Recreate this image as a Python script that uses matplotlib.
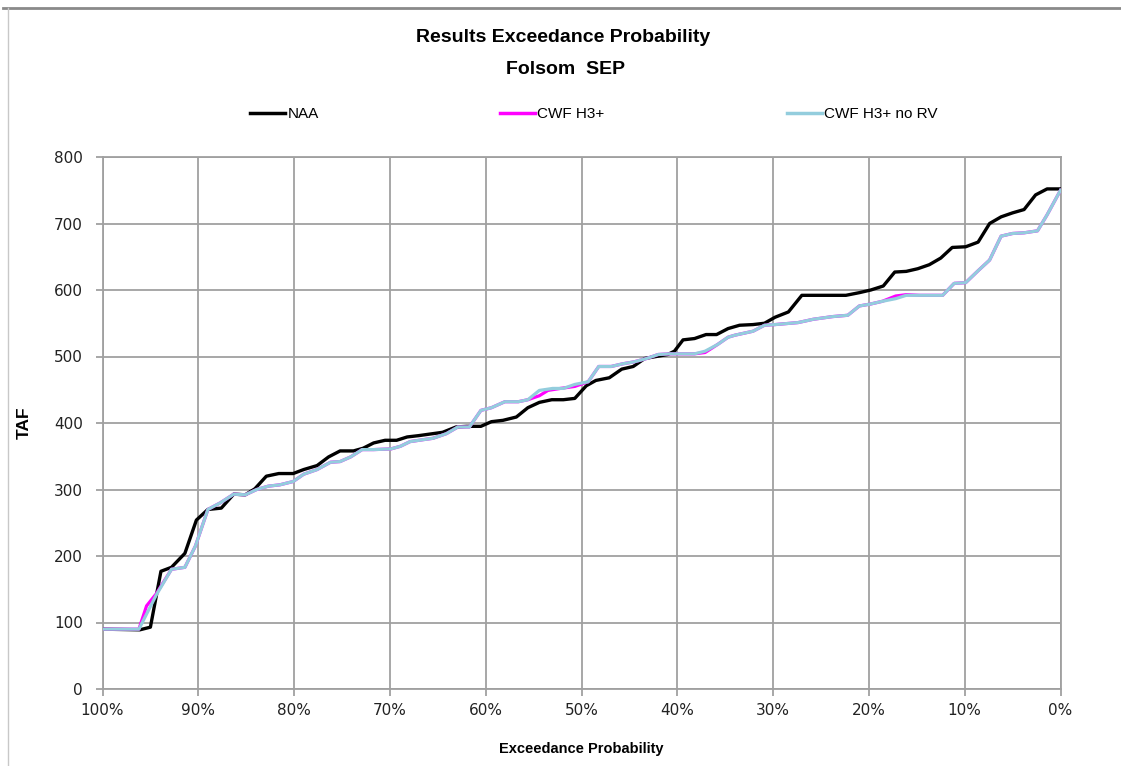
import matplotlib
matplotlib.use("Agg")
import matplotlib.pyplot as plt
from matplotlib import font_manager
from matplotlib.lines import Line2D

# ---------------- data ----------------
naa_x = [100, 96.1, 95.0, 93.9, 92.8, 91.4, 90.2, 89.0, 87.6, 86.3, 85.1, 84.1, 82.9, 81.6, 80.1,
         79.0, 77.6, 76.4, 75.2, 73.8, 72.8, 71.7, 70.5, 69.3, 68.2, 67.0, 65.5, 64.5, 63.1, 62.0,
         60.5, 59.4, 58.2, 56.8, 55.6, 54.4, 53.1, 51.9, 50.7, 49.5, 48.5, 47.1, 45.8, 44.6, 43.4,
         42.2, 41.0, 40.3, 39.4, 38.2, 37.0, 35.9, 34.7, 33.5, 32.1, 30.9, 29.8, 28.4, 27.0, 25.5,
         24.1, 22.4, 21.0, 19.8, 18.5, 17.3, 16.1, 14.9, 13.7, 12.5, 11.3, 9.9, 8.6, 7.4, 6.2,
         5.0, 3.8, 2.6, 1.4, 0]
naa_y = [90, 89, 93, 177, 183, 204, 254, 270, 272, 293, 292, 301, 320, 324, 324,
         330, 336, 349, 358, 358, 362, 370, 374, 374, 379, 381, 384, 386, 394, 395,
         395, 402, 404, 409, 423, 431, 435, 435, 437, 456, 464, 468, 481, 485, 497,
         500, 503, 508, 525, 527, 533, 533, 542, 547, 548, 550, 559, 567, 592, 592,
         592, 592, 596, 600, 606, 627, 628, 632, 638, 648, 664, 665, 672, 700, 710,
         716, 721, 743, 752, 752]

cwf_x = [100, 96.2, 95.4, 94.4, 92.8, 91.4, 90.3, 89.0, 87.7, 86.3, 85.1, 83.9, 82.7, 81.5, 80.1,
         79.0, 77.6, 76.2, 75.2, 74.1, 72.9, 71.7, 69.9, 68.9, 67.9, 66.5, 65.5, 64.1, 62.9, 61.7,
         60.5, 59.4, 58.0, 56.6, 55.6, 54.4, 53.5, 52.2, 50.7, 49.3, 48.2, 46.9, 45.7, 44.5, 43.2,
         42.0, 40.8, 39.4, 38.2, 37.1, 35.8, 34.7, 34.0, 32.1, 30.9, 29.8, 27.4, 25.8, 23.8, 22.2,
         21.0, 19.8, 18.6, 17.2, 16.1, 14.7, 13.3, 12.3, 11.1, 9.9, 8.6, 7.4, 6.2, 5.0, 3.8,
         2.4, 1.4, 0]
cwf_y = [90, 90, 125, 143, 180, 183, 215, 270, 280, 293, 292, 300, 305, 307, 312,
         323, 330, 341, 342, 349, 360, 360, 361, 365, 372, 375, 377, 384, 394, 394,
         419, 423, 432, 432, 435, 441, 449, 452, 455, 462, 485, 485, 489, 492, 497,
         503, 504, 504, 504, 506, 518, 529, 532, 538, 547, 548, 551, 556, 560, 562,
         576, 579, 583, 591, 593, 592, 592, 592, 610, 611, 629, 645, 681, 685, 686,
         689, 713, 750]

norv_x = [100, 96.2, 94.4, 92.8, 91.4, 90.3, 89.0, 87.7, 86.3, 85.1, 83.9, 82.7, 81.5, 80.1,
          79.0, 77.6, 76.2, 75.2, 74.1, 72.9, 71.7, 69.9, 68.9, 67.9, 66.5, 65.5, 64.1, 62.9, 61.7,
          60.5, 59.4, 58.0, 56.6, 55.6, 54.4, 53.0, 51.9, 50.7, 49.3, 48.2, 46.9, 45.7, 44.5, 43.2,
          42.0, 40.8, 39.4, 38.2, 37.1, 35.8, 34.7, 34.0, 32.1, 30.9, 29.8, 27.4, 25.8, 23.8, 22.2,
          21.0, 19.8, 18.6, 17.2, 16.1, 14.7, 13.3, 12.3, 11.1, 9.9, 8.6, 7.4, 6.2, 5.0, 3.8,
          2.4, 1.4, 0]
norv_y = [90, 90, 141, 180, 183, 215, 270, 280, 293, 292, 300, 305, 307, 312,
          323, 330, 341, 342, 349, 360, 360, 361, 365, 372, 375, 377, 384, 394, 394,
          419, 423, 432, 432, 435, 449, 452, 452, 458, 462, 485, 485, 489, 492, 497,
          503, 504, 504, 504, 508, 518, 529, 532, 538, 547, 548, 551, 556, 560, 562,
          576, 579, 583, 587, 592, 592, 592, 592, 610, 611, 629, 645, 681, 685, 686,
          689, 713, 750]

series_names = ["NAA", "CWF H3+", "CWF H3+ no RV"]
x_ticks = [100, 90, 80, 70, 60, 50, 40, 30, 20, 10, 0]
x_tick_labels = [f"{t}%" for t in x_ticks]
y_ticks = [0, 100, 200, 300, 400, 500, 600, 700, 800]

title_line1 = "Results Exceedance Probability"
title_line2 = "Folsom  SEP"
x_label = "Exceedance Probability"
y_label = "TAF"

# ---------------- fonts ----------------
def pick(names):
    for n in names:
        try:
            font_manager.findfont(font_manager.FontProperties(family=n), fallback_to_default=False)
            return n
        except Exception:
            continue
    return "DejaVu Sans"

narrow = pick(["Liberation Sans Narrow", "Liberation Sans"])
tickfont = "DejaVu Sans"
legfont = pick(["Liberation Sans", "Arial"])

# ---------------- figure ----------------
W, H = 1121, 766
fig = plt.figure(figsize=(W / 100, H / 100), dpi=100)
fig.patch.set_facecolor("white")

x0, x1 = 102.5, 1060.5
y0, y1 = 689, 157
ax = fig.add_axes([x0 / W, 1 - y0 / H, (x1 - x0) / W, (y0 - y1) / H])

grid_c = "#A0A0A0"
colors = ["black", "#FF00FF", "#93CDDD"]

ax.plot(naa_x, naa_y, color=colors[0], lw=2.4, zorder=3, solid_joinstyle="round")
ax.plot(cwf_x, cwf_y, color=colors[1], lw=2.3, zorder=4, solid_joinstyle="round")
ax.plot(norv_x, norv_y, color=colors[2], lw=2.3, zorder=5, solid_joinstyle="round")

ax.set_xlim(100, 0)
ax.set_ylim(0, 800)
ax.set_xticks(x_ticks)
ax.set_xticklabels(x_tick_labels)
ax.set_yticks(y_ticks)
ax.grid(True, color=grid_c, lw=1.3)
ax.set_axisbelow(True)
for s in ax.spines.values():
    s.set_color(grid_c)
    s.set_linewidth(1.3)
ax.tick_params(axis="both", direction="out", length=5, width=1.3, color=grid_c,
               labelsize=11, labelcolor="#222222")
ax.tick_params(axis="x", pad=5)
ax.tick_params(axis="y", pad=9)
for lab in ax.get_xticklabels() + ax.get_yticklabels():
    lab.set_family(tickfont)

ax.set_xlabel(x_label, fontsize=10.5, fontweight="bold", family=narrow, labelpad=17)
ax.set_ylabel(y_label, fontsize=12.5, fontweight="bold", family=legfont, labelpad=16)

# titles
fig.text(563 / W, 1 - 37 / H, title_line1, ha="center", va="center",
         fontsize=14, fontweight="bold", family=narrow)
fig.text(566 / W, 1 - 70 / H, title_line2, ha="center", va="center",
         fontsize=14, fontweight="bold", family=narrow)

# legend: three separate entries
legend_pos = [250, 500, 787]
for name, c, px in zip(series_names, colors, legend_pos):
    h = Line2D([], [], color=c, lw=2.5)
    fig.legend([h], [name], loc="center left",
               bbox_to_anchor=(px / W, 1 - 114 / H), frameon=False,
               handlelength=2.3, handletextpad=0.15, borderpad=0, borderaxespad=0,
               prop={"family": legfont, "size": 11})

# chart area border (top and left edges)
fig.add_artist(Line2D([3 / W, 1], [1 - 8 / H, 1 - 8 / H], color="#8A8A8A", lw=2,
                      transform=fig.transFigure))
fig.add_artist(Line2D([8 / W, 8 / W], [0, 1 - 8 / H], color="#C8C8C8", lw=1,
                      transform=fig.transFigure))

fig.savefig("out.png", dpi=100)
